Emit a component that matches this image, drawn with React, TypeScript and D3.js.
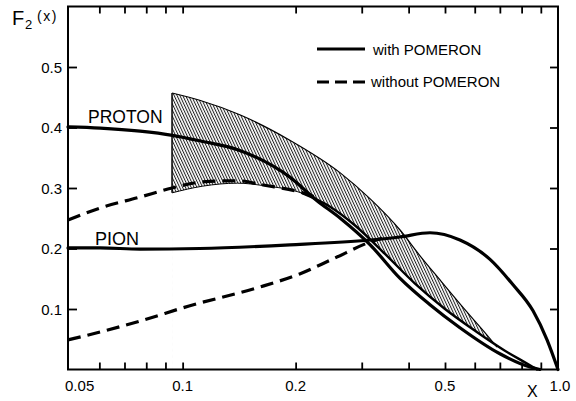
import React, { useEffect, useRef } from 'react';
import * as d3 from 'd3';

type Pt = [number, number];

// curves: [x, F2(x)]
const protonWithPom: Pt[] = [
  [0.0495, 0.401], [0.0603, 0.399], [0.077, 0.394], [0.094, 0.387], [0.111, 0.378],
  [0.142, 0.362], [0.193, 0.318], [0.228, 0.279], [0.263, 0.25], [0.316, 0.206],
  [0.379, 0.151], [0.456, 0.107], [0.548, 0.069], [0.7, 0.026], [0.842, 0.004], [0.895, 0],
];
const protonNoPom: Pt[] = [
  [0.0495, 0.247], [0.0603, 0.267], [0.077, 0.285], [0.0937, 0.3], [0.113, 0.31],
  [0.14, 0.312], [0.164, 0.305], [0.209, 0.292], [0.228, 0.284],
];
// lower edge of the shaded band; beyond x≈0.21 it is drawn as a solid line
const bandLower: Pt[] = [
  [0.0937, 0.292], [0.113, 0.303], [0.14, 0.308], [0.164, 0.304], [0.209, 0.291],
  [0.247, 0.269], [0.288, 0.238], [0.346, 0.191], [0.416, 0.142], [0.5, 0.1],
  [0.601, 0.064], [0.722, 0.031], [0.842, 0.007], [0.879, 0],
];
const bandUpper: Pt[] = [
  [0.0937, 0.457], [0.111, 0.445], [0.142, 0.421], [0.193, 0.379], [0.263, 0.325],
  [0.316, 0.282], [0.379, 0.231], [0.429, 0.188], [0.485, 0.148], [0.565, 0.099],
  [0.647, 0.057], [0.688, 0.037],
];
const pionWithPom: Pt[] = [
  [0.0495, 0.201], [0.0603, 0.201], [0.077, 0.199], [0.111, 0.2], [0.193, 0.206],
  [0.316, 0.214], [0.379, 0.219], [0.456, 0.226], [0.548, 0.214], [0.659, 0.182],
  [0.759, 0.14], [0.858, 0.097], [0.935, 0.049], [1.0, 0],
];
const pionNoPom: Pt[] = [
  [0.0495, 0.049], [0.0603, 0.062], [0.077, 0.08], [0.104, 0.105], [0.158, 0.135],
  [0.205, 0.158], [0.252, 0.183], [0.32, 0.212], [0.34, 0.217],
];

const xMinorTicks = [0.06, 0.07, 0.08, 0.09, 0.1, 0.2, 0.3, 0.4, 0.5, 0.6, 0.7, 0.8, 0.9];
const xLabels = [
  { v: 0.05, t: '0.05' },
  { v: 0.1, t: '0.1' },
  { v: 0.2, t: '0.2' },
  { v: 0.5, t: '0.5' },
  { v: 1.0, t: '1.0' },
];
const yTicks = [0.1, 0.2, 0.3, 0.4, 0.5];
const yLabels = ['0.1', '0.2', '0.3', '0.4', '0.5'];

const FONT = '"Liberation Sans", Arial, sans-serif';

const Chart: React.FC = () => {
  const svgRef = useRef<SVGSVGElement | null>(null);

  useEffect(() => {
    if (!svgRef.current) return;
    const svg = d3.select(svgRef.current);
    svg.selectAll('*').remove();

    const left = 68, right = 558, top = 6.5, bottom = 369.5;
    const x = d3.scaleLog().domain([0.0495, 1]).range([left, right]);
    const y = d3.scaleLinear().domain([0, 0.6]).range([bottom, top]);

    const line = d3.line<Pt>()
      .x(d => x(d[0]))
      .y(d => y(d[1]))
      .curve(d3.curveMonotoneX);
    const under = d3.area<Pt>()
      .x(d => x(d[0]))
      .y0(bottom + 2)
      .y1(d => y(d[1]))
      .curve(d3.curveMonotoneX);

    // hatch pattern + mask for the band (area under upper minus area under lower)
    const defs = svg.append('defs');
    const pat = defs.append('pattern')
      .attr('id', 'hatch')
      .attr('patternUnits', 'userSpaceOnUse')
      .attr('width', 2.6)
      .attr('height', 6)
      .attr('patternTransform', 'rotate(-25)');
    pat.append('line')
      .attr('x1', 0.5).attr('y1', 0).attr('x2', 0.5).attr('y2', 6)
      .attr('stroke', '#222').attr('stroke-width', 1);
    const mask = defs.append('mask').attr('id', 'bandMask')
      .attr('maskUnits', 'userSpaceOnUse')
      .attr('x', 0).attr('y', 0).attr('width', 576).attr('height', 401);
    mask.append('path').attr('d', under(bandUpper)).attr('fill', '#fff');
    mask.append('path').attr('d', under(bandLower)).attr('fill', '#000');

    svg.append('rect')
      .attr('x', left).attr('y', top)
      .attr('width', right - left).attr('height', bottom - top)
      .attr('fill', 'url(#hatch)')
      .attr('mask', 'url(#bandMask)');
    svg.append('path').attr('d', line(bandUpper)).attr('fill', 'none')
      .attr('stroke', '#000').attr('stroke-width', 1.2);
    svg.append('path').attr('d', line(bandLower)).attr('fill', 'none')
      .attr('stroke', '#000').attr('stroke-width', 1);
    svg.append('line')
      .attr('x1', x(bandUpper[0][0])).attr('x2', x(bandLower[0][0]))
      .attr('y1', y(bandUpper[0][1])).attr('y2', y(bandLower[0][1]))
      .attr('stroke', '#000').attr('stroke-width', 1.5);

    // curves
    const solid = (data: Pt[], w: number) =>
      svg.append('path').attr('d', line(data)).attr('fill', 'none')
        .attr('stroke', '#000').attr('stroke-width', w).attr('stroke-linecap', 'round');
    const dashed = (data: Pt[]) =>
      svg.append('path').attr('d', line(data)).attr('fill', 'none')
        .attr('stroke', '#000').attr('stroke-width', 3.2).attr('stroke-dasharray', '13 7');

    solid(protonWithPom, 3.2);
    solid(bandLower.filter(d => d[0] >= 0.209), 2.4);
    solid(pionWithPom, 3.2);
    dashed(protonNoPom);
    dashed(pionNoPom);

    // axes (inward ticks)
    const gB = svg.append('g').attr('transform', `translate(0,${bottom})`)
      .call(d3.axisBottom(x).tickValues(xMinorTicks).tickSize(-7).tickFormat(() => ''));
    const gT = svg.append('g').attr('transform', `translate(0,${top})`)
      .call(d3.axisTop(x).tickValues(xMinorTicks).tickSize(-7).tickFormat(() => ''));
    const gL = svg.append('g').attr('transform', `translate(${left},0)`)
      .call(d3.axisLeft(y).tickValues(yTicks).tickSize(-9).tickFormat(() => ''));
    const gR = svg.append('g').attr('transform', `translate(${right},0)`)
      .call(d3.axisRight(y).tickValues(yTicks).tickSize(-8).tickFormat(() => ''));
    [gB, gT, gL, gR].forEach(g => {
      g.select('.domain').remove();
      g.selectAll('line').attr('stroke', '#000').attr('stroke-width', 1.8);
    });

    svg.append('rect')
      .attr('x', left).attr('y', top)
      .attr('width', right - left).attr('height', bottom - top)
      .attr('fill', 'none').attr('stroke', '#000').attr('stroke-width', 2);

    // tick labels
    svg.append('g').selectAll('text').data(xLabels).join('text')
      .attr('x', d => x(d.v) + (d.v === 0.05 ? 10 : d.v === 1 ? 2 : 0))
      .attr('y', 391)
      .attr('text-anchor', 'middle')
      .attr('font-family', FONT).attr('font-size', 15)
      .text(d => d.t);
    svg.append('g').selectAll('text').data(yTicks).join('text')
      .attr('x', 62)
      .attr('y', d => y(d) + 5.5)
      .attr('text-anchor', 'end')
      .attr('font-family', FONT).attr('font-size', 15)
      .text((_, i) => yLabels[i]);

    // axis titles
    svg.append('text').attr('x', 527).attr('y', 397)
      .attr('font-family', FONT).attr('font-size', 16).text('X');
    const fy = svg.append('text').attr('font-family', FONT);
    fy.append('tspan').attr('x', 12).attr('y', 25).attr('font-size', 20).text('F');
    fy.append('tspan').attr('x', 25).attr('y', 29).attr('font-size', 13).text('2');
    fy.append('tspan').attr('x', 37).attr('y', 21).attr('font-size', 14)
      .attr('letter-spacing', 1.5).text('(x)');

    // curve labels
    svg.append('text').attr('x', 88).attr('y', 123)
      .attr('font-family', FONT).attr('font-size', 17.5).text('PROTON');
    svg.append('text').attr('x', 95).attr('y', 245)
      .attr('font-family', FONT).attr('font-size', 18).text('PION');

    // legend
    svg.append('line').attr('x1', 317).attr('x2', 365).attr('y1', 49).attr('y2', 49)
      .attr('stroke', '#000').attr('stroke-width', 3.2);
    svg.append('line').attr('x1', 317).attr('x2', 365).attr('y1', 82).attr('y2', 82)
      .attr('stroke', '#000').attr('stroke-width', 3.2).attr('stroke-dasharray', '12 6');
    svg.append('text').attr('x', 373).attr('y', 55)
      .attr('font-family', FONT).attr('font-size', 15).text('with POMERON');
    svg.append('text').attr('x', 371).attr('y', 87)
      .attr('font-family', FONT).attr('font-size', 15).text('without POMERON');
  }, []);

  return (
    <svg
      ref={svgRef}
      width={576}
      height={401}
      style={{ position: 'absolute', left: 0, top: 0, background: '#fff' }}
    />
  );
};

export default function App() {
  return <Chart />;
}
